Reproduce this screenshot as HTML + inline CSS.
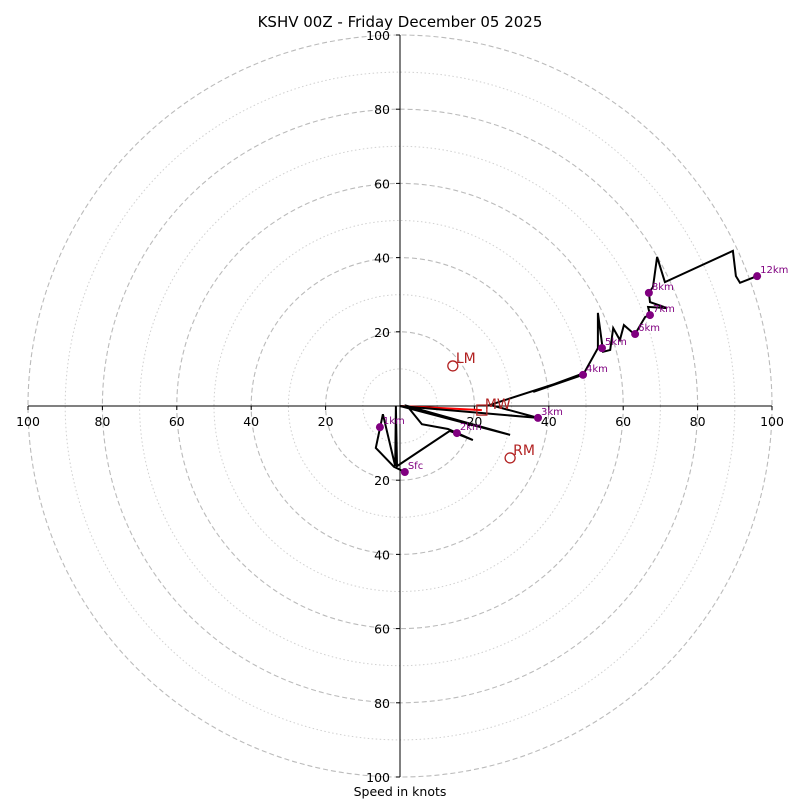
<!DOCTYPE html>
<html><head><meta charset="utf-8"><style>
html,body{margin:0;padding:0;background:#fff;}
svg{display:block;font-family:"DejaVu Sans","Liberation Sans",sans-serif;}
</style></head><body>
<svg id="chart" width="800" height="800" viewBox="0 0 800 800">
<text x="400" y="27" font-size="15" text-anchor="middle">KSHV 00Z - Friday December 05 2025</text>
<text x="400" y="796" font-size="12.5" text-anchor="middle">Speed in knots</text>
<g id="grid"></g><g id="axes"></g><g id="series"></g>
</svg>
<script>
const ringsMajor = [20, 40, 60, 80, 100];
const ringsMinor = [10, 30, 50, 70, 90];
const tickLabels = [20, 40, 60, 80, 100];
const pathU = [1.3,-1.6,-6.5,-4.6,-1.3,-1.1,-0.8,13.4,19.6,12.9,5.9,1.9,29.6,0,37.1,24.2,49.2,35.8,49.5,53.2,53.2,54.6,56.5,57.3,59.1,60.2,62.4,63.2,65.9,67.2,66.7,71.8,67.2,66.9,68.0,69.1,71.2,89.5,90.3,91.4,96.0];
const pathV = [-17.8,-16.4,-11.3,-2.2,-16.2,0,-16.2,-6.7,-9.2,-6.2,-4.9,0,-7.8,0,-3.2,0.3,8.4,3.8,8.9,15.6,25.1,14.6,15.1,21.0,17.8,21.8,19.9,19.4,24.0,24.5,26.7,26.4,28.0,30.5,32.1,40.2,33.4,41.8,35.0,33.2,35.0];
const markerLabels = ["Sfc","1km","2km","3km","4km","5km","6km","7km","8km","12km"];
const markerU = [1.3,-5.4,15.3,37.1,49.2,54.3,63.2,67.2,66.9,96.0];
const markerV = [-17.8,-5.7,-7.3,-3.2,8.4,15.6,19.4,24.5,30.5,35.0];
const lmUV = [14.2,10.8];
const rmUV = [29.6,-14.0];
const mwUV = [22.0,-1.1];

const NS='http://www.w3.org/2000/svg';
const cx=400, cy=406, kx=3.72, ky=3.71;
const X=u=>cx+u*kx, Y=v=>cy-v*ky;
function mk(tag, attrs, parent){const e=document.createElementNS(NS,tag);for(const k in attrs)e.setAttribute(k,attrs[k]);parent.appendChild(e);return e;}
const grid=document.getElementById('grid'), axes=document.getElementById('axes'), ser=document.getElementById('series');

ringsMinor.forEach(r=>{
  const e=mk('ellipse',{cx:cx,cy:cy,rx:r*kx,ry:r*ky,fill:'none',stroke:'#d0d0d0','stroke-width':1,'stroke-dasharray':'1.5 2.5'},grid);
  
  
});
ringsMajor.forEach(r=>{
  const e=mk('ellipse',{cx:cx,cy:cy,rx:r*kx,ry:r*ky,fill:'none',stroke:'#bbbbbb','stroke-width':1.1,'stroke-dasharray':'5 3'},grid);
  
  
});
let ax=mk('line',{x1:X(-100),y1:cy,x2:X(100),y2:cy,stroke:'#000','stroke-width':1},axes);


ax=mk('line',{x1:cx,y1:Y(100),x2:cx,y2:Y(-100),stroke:'#000','stroke-width':1},axes);


tickLabels.forEach(t=>{
  [-1,1].forEach(s=>{
    const x=X(s*t);
    mk('line',{x1:x,y1:cy,x2:x,y2:cy+4,stroke:'#000'},axes);
    const tx=mk('text',{x:x,y:cy+20,'font-size':12.5,'text-anchor':'middle'},axes);
    tx.textContent=t;
    
    
    const y=Y(s*t);
    mk('line',{x1:cx-4,y1:y,x2:cx,y2:y,stroke:'#000'},axes);
    const ty=mk('text',{x:cx-10,y:y+5,'font-size':12.5,'text-anchor':'end'},axes);
    ty.textContent=t;
    
    
  });
});
let mwl=mk('line',{x1:X(0),y1:Y(0),x2:X(mwUV[0]),y2:Y(mwUV[1]),stroke:'#ff0000','stroke-width':2},ser);


const pts=pathU.map((u,i)=>X(u).toFixed(1)+','+Y(pathV[i]).toFixed(1)).join(' ');
const pl=mk('polyline',{points:pts,fill:'none',stroke:'#000','stroke-width':2,'stroke-linejoin':'miter'},ser);


markerLabels.forEach((lab,i)=>{
  const c=mk('circle',{cx:X(markerU[i]),cy:Y(markerV[i]),r:4,fill:'#800080'},ser);
  
  
  const t=mk('text',{x:X(markerU[i])+3,y:Y(markerV[i])-3,'font-size':10,fill:'#800080'},ser);
  t.textContent=lab;
  
  
});
[[lmUV,'LM'],[rmUV,'RM']].forEach(([p,l])=>{
  const c=mk('circle',{cx:X(p[0]),cy:Y(p[1]),r:5,fill:'none',stroke:'#b22222','stroke-width':1.3},ser);
  
  
  const t=mk('text',{x:X(p[0])+3,y:Y(p[1])-3,'font-size':14,fill:'#b22222'},ser);
  t.textContent=l;
  
  
});
const sq=mk('rect',{x:X(mwUV[0])-5,y:Y(mwUV[1])-5,width:10,height:10,fill:'none',stroke:'#b22222','stroke-width':1.3},ser);


const mt=mk('text',{x:X(mwUV[0])+3,y:Y(mwUV[1])-1,'font-size':14,fill:'#b22222'},ser);
mt.textContent='MW';


</script>
</body></html>
